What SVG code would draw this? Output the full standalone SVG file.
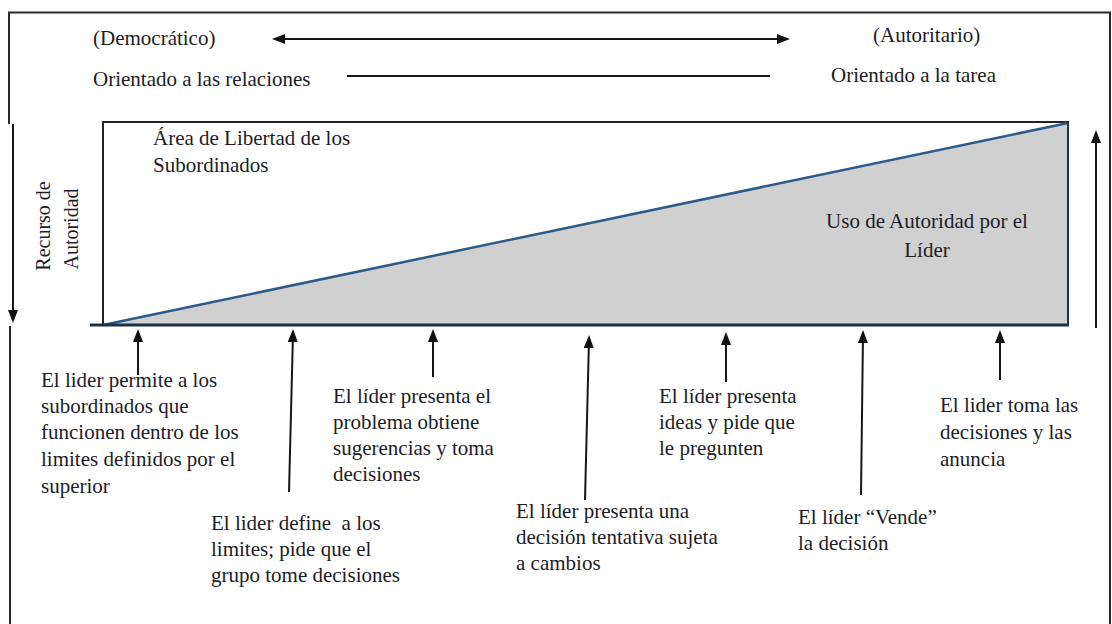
<svg xmlns="http://www.w3.org/2000/svg" width="1112" height="624" viewBox="0 0 1112 624">
  <defs>
    <marker id="ah" markerUnits="userSpaceOnUse" markerWidth="13" markerHeight="11" refX="9" refY="5" orient="auto-start-reverse">
      <path d="M0,0 L13,5 L0,10 z" fill="#111"/>
    </marker>
    <style>
      .t { font-family: "Liberation Serif", "Times New Roman", serif; font-size: 21px; fill: #1c1c26; }
      .tv { font-family: "Liberation Serif", "Times New Roman", serif; font-size: 20px; fill: #1c1c26; }
      .frame { fill: none; stroke: #2a2a2a; stroke-width: 2; }
      .conn { fill: none; stroke: #161616; stroke-width: 2; }
    </style>
  </defs>
  <rect x="0" y="0" width="1112" height="624" fill="#ffffff"/>

  <!-- outer frame -->
  <g id="frame">
    <path class="frame" d="M9,124 L9,12.5 L1110,12.5 L1110,624 M10,326 L10,624"/>
  </g>

  <!-- main chart -->
  <g id="chart">
    <rect x="103" y="122" width="965" height="203" fill="#ffffff" stroke="#232323" stroke-width="2"/>
    <polygon points="103,325 1068,123 1068,325" fill="#d1d0d1"/>
    <line x1="103" y1="325" x2="1068" y2="123" stroke="#2b5b86" stroke-width="2.5"/>
    <line x1="1068" y1="122" x2="1068" y2="325" stroke="#1e3550" stroke-width="2"/>
    <line x1="90" y1="325" x2="1069" y2="325" stroke="#1b3049" stroke-width="3"/>
  </g>

  <g id="top-labels">
    <text class="t" x="93" y="45">(Democrático)</text>
    <text class="t" x="873" y="42">(Autoritario)</text>
    <text class="t" x="93" y="86">Orientado a las relaciones</text>
    <text class="t" x="831" y="82">Orientado a la tarea</text>
  </g>

  <g id="area-libertad">
    <text class="t" x="153" y="145">Área de Libertad de los</text>
    <text class="t" x="153" y="172">Subordinados</text>
  </g>

  <g id="uso-autoridad">
    <text class="t" x="927" y="228" text-anchor="middle">Uso de Autoridad por el</text>
    <text class="t" x="927" y="257" text-anchor="middle">Líder</text>
  </g>

  <g id="recurso-autoridad">
    <text class="tv" transform="translate(50,226) rotate(-90)" text-anchor="middle">Recurso de</text>
    <text class="tv" transform="translate(78,229) rotate(-90)" text-anchor="middle">Autoridad</text>
  </g>

  <g id="label-1">
    <text class="t" x="41" y="387">El lider permite a los</text>
    <text class="t" x="41" y="413">subordinados que</text>
    <text class="t" x="41" y="439">funcionen dentro de los</text>
    <text class="t" x="41" y="466">limites definidos por el</text>
    <text class="t" x="41" y="493">superior</text>
  </g>
  <g id="label-2">
    <text class="t" x="211" y="530" xml:space="preserve">El lider define  a los</text>
    <text class="t" x="211" y="556">limites; pide que el</text>
    <text class="t" x="211" y="582">grupo tome decisiones</text>
  </g>
  <g id="label-3">
    <text class="t" x="333" y="403">El líder presenta el</text>
    <text class="t" x="333" y="429">problema obtiene</text>
    <text class="t" x="333" y="455">sugerencias y toma</text>
    <text class="t" x="333" y="481">decisiones</text>
  </g>
  <g id="label-4">
    <text class="t" x="516" y="518">El líder presenta una</text>
    <text class="t" x="516" y="544">decisión tentativa sujeta</text>
    <text class="t" x="516" y="570">a cambios</text>
  </g>
  <g id="label-5">
    <text class="t" x="659" y="403">El líder presenta</text>
    <text class="t" x="659" y="429">ideas y pide que</text>
    <text class="t" x="659" y="455">le pregunten</text>
  </g>
  <g id="label-6">
    <text class="t" x="798" y="524">El líder “Vende”</text>
    <text class="t" x="798" y="550">la decisión</text>
  </g>
  <g id="label-7">
    <text class="t" x="940" y="412">El lider toma las</text>
    <text class="t" x="940" y="439">decisiones y las</text>
    <text class="t" x="940" y="466">anuncia</text>
  </g>

  <g id="connectors">
    <line class="conn" x1="276" y1="39" x2="786" y2="39" marker-start="url(#ah)" marker-end="url(#ah)"/>
    <line class="conn" x1="347" y1="76" x2="770" y2="76"/>
    <line class="conn" x1="13" y1="124" x2="13" y2="319" marker-end="url(#ah)"/>
    <line class="conn" x1="1096" y1="328" x2="1096" y2="134" marker-end="url(#ah)"/>
    <line class="conn" x1="138" y1="375" x2="138" y2="333" marker-end="url(#ah)"/>
    <line class="conn" x1="289" y1="492" x2="293" y2="333" marker-end="url(#ah)"/>
    <line class="conn" x1="433" y1="377" x2="433" y2="333" marker-end="url(#ah)"/>
    <line class="conn" x1="585" y1="500" x2="589" y2="339" marker-end="url(#ah)"/>
    <line class="conn" x1="726" y1="382" x2="726" y2="336" marker-end="url(#ah)"/>
    <line class="conn" x1="861" y1="495" x2="863" y2="334" marker-end="url(#ah)"/>
    <line class="conn" x1="1000" y1="380" x2="1000" y2="334" marker-end="url(#ah)"/>
  </g>
</svg>
